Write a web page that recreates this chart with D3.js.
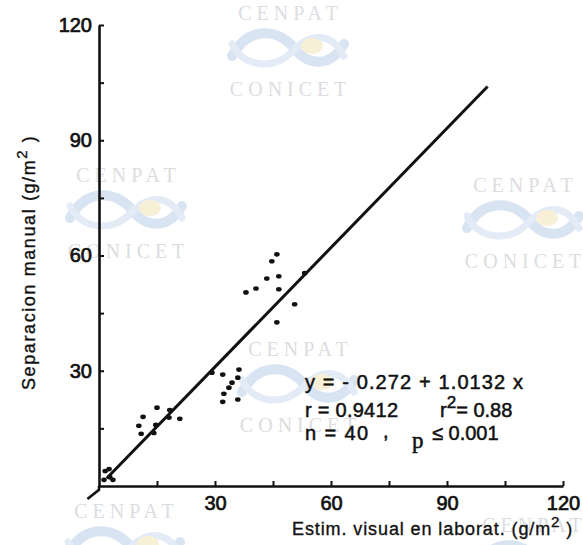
<!DOCTYPE html>
<html><head><meta charset="utf-8">
<script src="https://cdn.jsdelivr.net/npm/d3@7"></script>
<style>body{margin:0;background:#fff}svg{display:block}</style>
</head><body><svg id="c" width="583" height="545"></svg>
<script>
// ---- data ----
const xValues = [46.0,44.7,43.4,46.5,40.6,38.0,46.5,50.6,46.0,53.2,
                 32.0,36.2,35.9,34.4,33.6,32.3,35.9,32.0,29.2,
                 15.0,18.3,11.4,18.1,20.9,10.3,14.7,10.9,14.2,
                 1.6,2.6,2.8,1.3,3.6];
const yValues = [60.3,58.5,54.0,54.6,51.4,50.4,51.2,47.3,42.6,55.4,
                 29.0,30.3,28.2,26.9,25.6,24.0,22.5,21.9,29.5,
                 20.4,19.8,18.0,17.8,17.5,15.7,15.9,13.6,13.8,
                 3.9,4.4,2.3,1.6,1.6];
const fitLineX = [2, 100.5];
const fitLineY = [2, 104];
const xTicks = [15,30,45,60,75,90,105,120];
const yTicks = [15,30,45,60,75,90,105,120];
const xTickLabels = [30,60,90,120];
const yTickLabels = [30,60,90,120];
const xTitle = "Estim. visual en laborat. (g/m";
const yTitle = "Separacion manual (g/m";
const eq1 = "y = - 0.272 + 1.0132 x";
const eq2a = "r = 0.9412", eq2b = "r", eq2c = "= 0.88";
const eq3a = "n = 40", eq3b = ",", eq3c = "p", eq3d = "\u2264 0.001";
const wmTop = "C E N P A T", wmBottom = "C O N I C E T";

const svg = d3.select("#c");
const W = 583, H = 545;
svg.append("rect").attr("width",W).attr("height",H).attr("fill","#fff");

// ---- watermarks (background) ----
const wmCenters = [[288,50,true],[126,212,true],[523,222,true],[298,386,true],[124,548,false],[532,562,false]];
const wm = svg.append("g");
wmCenters.forEach(([cx,cy,full])=>{
  const g = wm.append("g").attr("transform",`translate(${cx},${cy})`);
  g.append("path").attr("d","M-56,6 C-40,-24 -10,-22 6,-2 C20,16 42,18 56,-6")
    .attr("fill","none").attr("stroke","#d9e4f3").attr("stroke-width",10).attr("stroke-linecap","round");
  g.append("path").attr("d","M-56,-6 C-44,18 -14,20 4,2 C20,-16 42,-20 56,6")
    .attr("fill","none").attr("stroke","#e3ebf7").attr("stroke-width",7).attr("stroke-linecap","round");
  g.append("ellipse").attr("cx",24).attr("cy",-4).attr("rx",11).attr("ry",8).attr("fill","#f8f0d6");
  g.append("text").attr("y",-30).attr("text-anchor","middle")
    .attr("font-family","Liberation Serif").attr("font-size",20).attr("fill","#dcdde0").text(wmTop);
  if (full) g.append("text").attr("y",46).attr("text-anchor","middle")
    .attr("font-family","Liberation Serif").attr("font-size",20).attr("fill","#dcdde0").text(wmBottom);
});

// ---- scales ----
const x = d3.scaleLinear().domain([0,120]).range([99,563]);
const y = d3.scaleLinear().domain([0,120]).range([486,25]);
const font = "Liberation Sans";

// x axis ticks
const gx = svg.append("g").attr("transform",`translate(0,${y(0)})`)
  .call(d3.axisBottom(x).tickValues(xTicks).tickSize(-5).tickSizeOuter(0).tickFormat(""));
gx.select(".domain").attr("stroke","#111").attr("stroke-width",2.6);
gx.selectAll(".tick line").attr("stroke","#111").attr("stroke-width",2);
const gxl = svg.append("g").attr("transform",`translate(0,${y(0)})`)
  .call(d3.axisBottom(x).tickValues(xTickLabels).tickSize(0).tickPadding(10));
gxl.select(".domain").remove();
gxl.selectAll("text").attr("font-family",font).attr("font-size",20).attr("fill","#111")
  .attr("stroke","#111").attr("stroke-width",0.7);

// y axis ticks
const gy = svg.append("g").attr("transform",`translate(${x(0)},0)`)
  .call(d3.axisLeft(y).tickValues(yTicks).tickSize(-5).tickSizeOuter(0).tickFormat(""));
gy.select(".domain").attr("stroke","#111").attr("stroke-width",2.6);
gy.selectAll(".tick line").attr("stroke","#111").attr("stroke-width",2);
const gyl = svg.append("g").attr("transform",`translate(${x(0)},0)`)
  .call(d3.axisLeft(y).tickValues(yTickLabels).tickSize(0).tickPadding(7));
gyl.select(".domain").remove();
gyl.selectAll("text").attr("font-family",font).attr("font-size",20).attr("fill","#111")
  .attr("stroke","#111").attr("stroke-width",0.7);

// small extension below origin
svg.append("path")
  .attr("d",`M${x(0)},${y(0)} L${x(0)},${y(-1)} L${x(-3)},${y(-3.4)}`)
  .attr("fill","none").attr("stroke","#111").attr("stroke-width",2.6);

// fit line
svg.append("path")
  .attr("d", d3.line().x(d=>x(d[0])).y(d=>y(d[1]))(d3.zip(fitLineX, fitLineY)))
  .attr("stroke","#111").attr("stroke-width",3).attr("fill","none");

// points
svg.append("g").selectAll("ellipse").data(d3.zip(xValues,yValues)).join("ellipse")
  .attr("cx",d=>x(d[0])).attr("cy",d=>y(d[1])).attr("rx",2.8).attr("ry",2.3).attr("fill","#111");

// equation block
const tx = svg.append("g").attr("font-family",font).attr("font-size",20).attr("fill","#111")
  .attr("stroke","#111").attr("stroke-width",0.5);
tx.append("text").attr("x",305).attr("y",389).attr("textLength",218).attr("lengthAdjust","spacing").text(eq1);
tx.append("text").attr("x",305).attr("y",417).attr("textLength",93).attr("lengthAdjust","spacing").text(eq2a);
const t2 = tx.append("text").attr("x",440).attr("y",417);
t2.append("tspan").text(eq2b);
t2.append("tspan").attr("dy",-9).attr("font-size",17).text("2");
t2.append("tspan").attr("dy",9).text(eq2c);
tx.append("text").attr("x",305).attr("y",440).attr("textLength",63).attr("lengthAdjust","spacing").text(eq3a);
tx.append("text").attr("x",383).attr("y",438).text(eq3b);
tx.append("text").attr("x",412).attr("y",448).attr("font-family","Liberation Serif").attr("font-size",23).text(eq3c);
tx.append("text").attr("x",432).attr("y",440).text(eq3d);

// axis titles
const xt = svg.append("text").attr("x",292).attr("y",535).attr("font-family",font).attr("font-size",18)
  .attr("letter-spacing",0.9)
  .attr("fill","#111").attr("stroke","#111").attr("stroke-width",0.35);
xt.append("tspan").text(xTitle);
xt.append("tspan").attr("dy",-8).attr("font-size",15).text("2");
xt.append("tspan").attr("dy",8).text(" )");

const yt = svg.append("text").attr("transform","translate(35,390) rotate(-90)")
  .attr("font-family",font).attr("font-size",18).attr("letter-spacing",1.6)
  .attr("fill","#111").attr("stroke","#111").attr("stroke-width",0.35);
yt.append("tspan").text(yTitle);
yt.append("tspan").attr("dy",-8).attr("font-size",15).text("2");
yt.append("tspan").attr("dy",8).text(" )");
</script>
</body></html>
